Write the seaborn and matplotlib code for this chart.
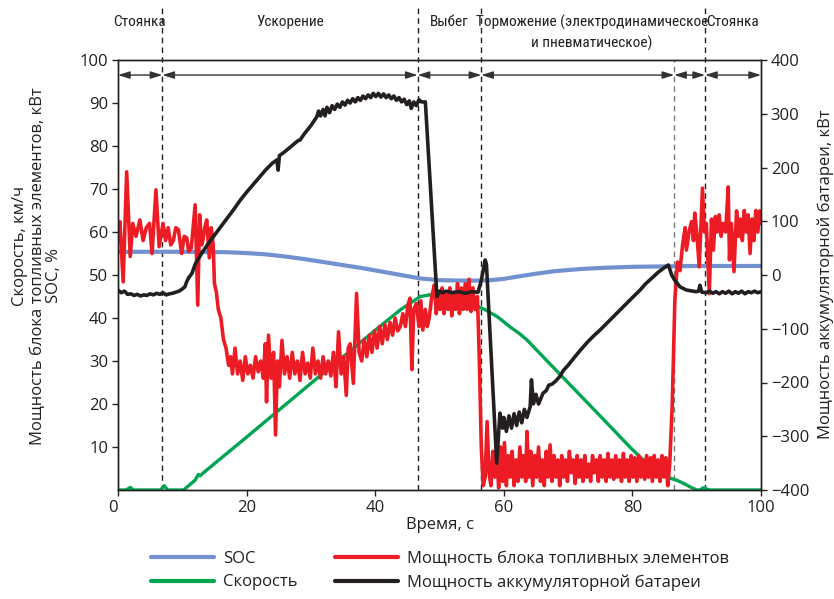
import matplotlib
matplotlib.use("Agg")
import matplotlib.pyplot as plt
from matplotlib.lines import Line2D
from matplotlib import font_manager as fm
import seaborn as sns
import pandas as pd

# ---------------- data ----------------
soc_t = [0, 10, 17, 20, 23, 26, 29, 32, 35, 38, 41, 44, 47, 50, 53, 56, 58, 60, 62, 65, 68, 72, 76, 80, 85, 90, 100]
soc_v = [55.4, 55.4, 55.3, 55.1, 54.8, 54.3, 53.7, 53.0, 52.3, 51.6, 50.8, 50.0, 49.2, 48.8, 48.7, 48.7, 48.8,
         49.1, 49.6, 50.3, 50.9, 51.4, 51.7, 51.9, 52.0, 52.1, 52.1]

speed_t = [0, 1.3, 1.9, 2.4, 6.6, 7.2, 7.7, 10.2, 12.0, 12.5, 12.8, 13.2, 20, 30, 40.2, 44, 47, 49, 51, 53, 55,
           57, 59, 61, 62.5, 63.6, 67, 71, 75, 79.6, 82, 85.8, 87, 88, 89, 90, 90.5, 91.0, 92, 100]
speed_v = [0, 0, 0.6, 0, 0, 1.0, 0, 0, 2.3, 3.6, 3.3, 3.9, 12.3, 24.8, 37.4, 42.0, 45.0, 45.5, 45.3, 44.5, 43.3,
           42.0, 40.3, 37.9, 36.3, 34.9, 29.6, 23.4, 17.2, 10.0, 6.5, 2.8, 2.2, 1.5, 0.7, 0, 0, 0.5, 0, 0]

fc_t = [0, 0.3, 0.8, 1.35, 1.9, 2.3, 2.8, 3.4, 3.9, 4.4, 4.9, 5.3, 5.9, 6.4, 7.0, 7.4, 7.8, 8.2, 8.6, 9.0, 9.4,
        9.9, 10.3, 10.7, 11.0, 11.4, 12.0, 12.4, 12.7, 13.0, 13.2, 13.5, 13.8, 14.2, 14.5, 14.8, 15.0, 15.3,
        15.6, 16.0, 16.4, 16.8, 17.2, 17.5, 17.8, 18.2, 18.6, 19.0, 19.4, 19.8, 20.2, 20.6, 21.0, 21.4, 21.8,
        22.2, 22.6, 22.9, 23.1, 23.4, 23.8, 24.2, 24.5, 24.8, 25.1, 25.5, 25.9, 26.3, 26.7, 27.1, 27.5, 27.9,
        28.3, 28.7, 29.1, 29.5, 29.9, 30.3, 30.7, 31.1, 31.5, 31.9, 32.3, 32.7, 33.1, 33.5, 33.9, 34.3, 34.7,
        35.1, 35.5, 35.8, 36.1, 36.6, 37.1, 37.5, 37.9, 38.3, 38.7, 39.1, 39.5, 39.9, 40.3, 40.7, 41.1, 41.5,
        41.9, 42.3, 42.7, 43.1, 43.5, 43.9, 44.3, 44.7, 45.1, 45.4, 45.7, 46.0, 46.4, 46.8, 47.1, 47.4, 47.8,
        48.1, 48.4, 48.8, 49.2, 49.5, 49.8, 50.1, 50.4, 50.7, 51.0, 51.3, 51.6, 51.9, 52.2, 52.5, 52.8, 53.1,
        53.4, 53.7, 54.0, 54.3, 54.6, 54.9, 55.2, 55.5, 55.9, 56.2, 56.5, 56.8, 57.1, 57.4, 57.7, 58.0, 58.3,
        58.6, 58.9, 59.2, 59.5, 59.8, 60.1, 60.4, 60.7, 61.0, 61.3, 61.6, 61.9, 62.2, 62.5, 62.8, 63.1, 63.4,
        63.6, 63.9, 64.2, 64.5, 64.8, 65.1, 65.4, 65.7, 66.0, 66.3, 66.6, 66.9, 67.2, 67.5, 67.8, 68.1, 68.4,
        68.7, 69.0, 69.3, 69.6, 69.9, 70.2, 70.5, 70.8, 71.1, 71.4, 71.7, 72.0, 72.3, 72.6, 72.9, 73.2, 73.5,
        73.8, 74.1, 74.4, 74.7, 75.0, 75.3, 75.6, 75.9, 76.2, 76.5, 76.8, 77.1, 77.4, 77.7, 78.0, 78.3, 78.6,
        78.9, 79.2, 79.5, 79.8, 80.1, 80.4, 80.7, 81.0, 81.3, 81.6, 81.9, 82.2, 82.5, 82.8, 83.1, 83.4, 83.7,
        84.0, 84.3, 84.6, 84.9, 85.2, 85.5, 85.8, 86.2, 86.6, 87.0, 87.4, 87.8, 88.2, 88.4, 88.8, 89.2, 89.5,
        89.7, 90.0, 90.4, 90.9, 91.2, 91.5, 91.96, 92.3, 92.6, 92.9, 93.2, 93.5, 93.8, 94.1, 94.5, 94.9, 95.1,
        95.4, 95.8, 96.2, 96.5, 96.8, 97.1, 97.4, 97.7, 98.0, 98.3, 98.6, 98.9, 99.2, 99.5, 99.8, 100]
fc_v = [58, 62.4, 48.4, 74, 54.3, 62, 59, 62.8, 58, 61, 62, 55, 69.8, 56.6, 62, 58, 61, 57, 58, 61, 60.5,
        55, 59, 58.6, 55.5, 56.3, 66.3, 43, 64, 57, 58, 61, 62.8, 54, 61, 57, 48, 46,
        42, 40, 35, 33, 29, 31, 27, 33, 27, 30, 25.5, 31, 27, 29, 26, 31, 27.5,
        30, 26, 34, 20.5, 36, 26, 32, 12.8, 30, 24, 34.8, 27, 31, 26, 32, 27, 30,
        25.5, 32, 27, 29.5, 26, 33, 27, 30, 26, 31, 27, 30, 26.5, 32, 24, 36.8, 27,
        31, 22, 33, 34, 24.8, 45.7, 32, 30, 35, 31, 36, 32, 37, 33, 38, 34, 38.5,
        35, 39, 36, 40, 37, 38, 41, 38, 43, 44.6, 28, 42, 43.4, 38, 44, 37.2, 42,
        38, 40, 45, 47.7, 41, 46, 42, 47, 41, 46, 42, 47, 40.5, 46, 42, 48, 41,
        47, 42, 48, 42, 49, 41.5, 47, 42, 45, 30, 10, 1, 3, 15.9, 4, 1, 9,
        3, 8, 0.5, 10, 2, 11, 1, 8, 3, 9, 1, 7, 2, 10, 3, 8, 2,
        13.6, 3, 9, 1, 8, 3, 10, 2, 7, 1, 9, 3, 10.5, 2, 8, 3, 7,
        1, 8, 3, 7, 2, 9, 4, 7, 1.5, 8, 3, 7, 2, 8, 3, 6, 2,
        8, 4, 7, 2, 8, 3, 7, 2, 8.5, 3, 7, 2.5, 8, 3, 7, 2, 8.5,
        3, 7, 2, 8, 3, 7.5, 2, 8, 3, 7, 2.5, 8, 3, 7.5, 2, 8, 3,
        7, 2, 8, 3, 7.5, 1, 6, 20, 44, 53, 51, 57, 61, 55.8, 60, 62.4, 58,
        64.4, 60, 51.9, 70.2, 60, 62, 45.7, 63, 55.8, 63.6, 60, 64, 59, 62, 60, 70.5, 53.5,
        62, 50.8, 64.9, 59, 63, 58, 65, 60, 64, 55, 63, 58, 65, 60, 64.9, 62]

bat_t = [0, 0.5, 1, 1.5, 2, 2.5, 3, 3.5, 4, 4.5, 5, 5.5, 6, 6.5, 7, 7.5, 8, 8.5, 9, 9.5, 10, 10.4, 10.7,
         11.0, 11.5, 12.0, 12.4, 13, 14, 15, 16, 17, 18, 19, 20, 21, 22, 23, 24, 24.7, 24.9, 25.1, 26, 27, 28,
         28.3, 29, 30, 30.9, 31.2, 31.5, 31.9, 32.2, 32.5, 32.9, 33.3, 33.7, 34.1, 34.5, 34.9, 35.3, 35.7,
         36.1, 36.5, 36.9, 37.3, 37.7, 38.1, 38.5, 38.9, 39.3, 39.7, 40.1, 40.5, 40.9, 41.3, 41.7, 42.1, 42.5,
         42.9, 43.3, 43.7, 44.1, 44.5, 44.9, 45.3, 45.6, 46.0, 46.4, 46.8, 47.2, 47.8, 49.6, 50.0, 50.5, 51,
         52, 53, 54, 55, 56, 56.5, 57.1, 57.3, 58.9, 59.4, 59.8, 60.0, 60.4, 60.8, 61.2, 61.6, 62.0, 62.4,
         62.8, 63.2, 63.6, 64.1, 64.3, 64.6, 65.0, 65.4, 66.1, 66.6, 67.0, 67.5, 68.0, 68.7, 69.3, 70, 71,
         71.9, 73, 74, 75, 76, 77, 78, 79, 80, 81.2, 82, 83, 84, 85, 85.6, 86.1, 86.6, 87.4, 88.4, 89.9,
         90.3, 90.5, 90.8, 91.5, 92, 92.5, 93, 93.5, 94, 94.5, 95, 95.5, 96, 96.5, 97, 97.5, 98, 98.5, 99,
         99.5, 100]
bat_v = [-28, -33, -30, -36, -35, -38, -36, -39, -37, -38, -35, -37, -34, -36, -33, -37, -35, -34, -32, -30,
         -26, -22, -12, -5, 3, 20, 28, 40, 58, 74, 90, 106, 122, 139, 154, 168, 182, 196, 208, 214, 195, 222,
         230, 240, 250, 251, 263, 278, 294, 305, 296, 308, 296, 312, 302, 315, 308, 318, 312, 322, 316, 325,
         320, 328, 322, 330, 325, 333, 328, 335, 330, 338, 332, 338, 331, 337, 330, 335, 328, 333, 325, 330,
         322, 327, 317, 324, 310, 322, 315, 326, 322, 322, -40, -30, -33, -30, -33, -31, -34, -31, -32, -10,
         28, 20, -350, -257, -285, -265, -291, -262, -285, -258, -280, -255, -275, -250, -265, -245, -195,
         -240, -222, -240, -220, -215, -205, -203, -198, -189, -177, -168, -153, -140, -125, -113, -102, -90,
         -78, -66, -54, -42, -28, -17, -6, 5, 14, 18.6, 0, -10, -22, -28, -31, -30, -19, -32, -33, -30, -34,
         -31, -35, -31, -34, -30, -35, -31, -34, -30, -35, -31, -33, -30, -33, -31]

phase_bounds = [0, 6.9, 46.6, 56.5, 86.5, 91.3, 100]
phase_labels = ["Стоянка", "Ускорение", "Выбег",
                "Торможение (электродинамическое\nи пневматическое)", "Стоянка"]
phase_label_x = [3.3, 26.8, 51.5, 73.7, 95.6]

left_ticks = [10, 20, 30, 40, 50, 60, 70, 80, 90, 100]
right_ticks = [-400, -300, -200, -100, 0, 100, 200, 300, 400]
x_ticks = [0, 20, 40, 60, 80, 100]


def has_font(name):
    try:
        fm.findfont(fm.FontProperties(family=name), fallback_to_default=False)
        return True
    except Exception:
        return False


narrow = next((f for f in ["Liberation Sans Narrow", "Roboto Condensed", "DejaVu Sans Condensed"]
               if has_font(f)), None)
if narrow:
    phase_family, phase_size = [narrow, "DejaVu Sans"], 11
else:
    phase_family, phase_size = ["Roboto", "DejaVu Sans"], 10

# ---------------- style ----------------
sns.set_style("ticks")
plt.rcParams["font.family"] = ["Open Sans", "DejaVu Sans"]
plt.rcParams["axes.unicode_minus"] = True
TXT = "#231f20"
C_SOC, C_SPD, C_FC, C_BAT = "#7191cf", "#00a551", "#ed1c24", "#231f20"

fig = plt.figure(figsize=(8.34, 5.99), dpi=100)
W, H = 834, 599
ax = fig.add_axes([118 / W, 1 - 490 / H, (761 - 118) / W, (490 - 60) / H])
ax2 = ax.twinx()

df_soc = pd.DataFrame({"t": soc_t, "v": soc_v})
df_spd = pd.DataFrame({"t": speed_t, "v": speed_v})
df_fc = pd.DataFrame({"t": fc_t, "v": fc_v})
df_bat = pd.DataFrame({"t": bat_t, "v": bat_v})

sns.lineplot(data=df_soc, x="t", y="v", ax=ax, color=C_SOC, linewidth=3.0, estimator=None, sort=False)
sns.lineplot(data=df_spd, x="t", y="v", ax=ax, color=C_SPD, linewidth=2.4, estimator=None, sort=False)
sns.lineplot(data=df_fc, x="t", y="v", ax=ax, color=C_FC, linewidth=2.6, estimator=None, sort=False)
sns.lineplot(data=df_bat, x="t", y="v", ax=ax2, color=C_BAT, linewidth=2.6, estimator=None, sort=False)

ax.set_xlim(0, 100)
ax.set_ylim(0, 100)
ax2.set_ylim(-400, 400)
ax.set_xticks(x_ticks)
ax.set_xticklabels([str(v) for v in x_ticks])
ax.get_xticklabels()[0].set_horizontalalignment("right")
ax.set_yticks(left_ticks)
ax2.set_yticks(right_ticks)
ax.set_xlabel("Время, с", fontsize=12, color=TXT, labelpad=1)
ax.set_ylabel("")
ax2.set_ylabel("")

for a in (ax, ax2):
    a.tick_params(direction="out", length=4, width=1, labelsize=12, colors=TXT, pad=3)
    for s in a.spines.values():
        s.set_visible(True)
        s.set_color(TXT)
        s.set_linewidth(1)

# phase boundaries
xt = ax.get_xaxis_transform()
for b in phase_bounds[1:-1]:
    if b == 86.5:
        ax.plot([b, b], [0, 1], transform=xt, color="#777777", lw=1, ls=(0, (4, 3)), zorder=1)
    else:
        ax.plot([b, b], [0, 1.128], transform=xt, color=TXT, lw=1, ls=(0, (4, 3)), zorder=1, clip_on=False)

# arrows
for a0, a1 in zip(phase_bounds[:-1], phase_bounds[1:]):
    ax.annotate("", xy=(a1, 96.5), xytext=(a0, 96.5),
                arrowprops=dict(arrowstyle="<|-|>,head_length=0.7,head_width=0.22", color="#333333",
                                lw=1, shrinkA=0, shrinkB=0))

# phase labels
for lx, lab in zip(phase_label_x, phase_labels):
    yl = 1.0628 if "\n" in lab else 1.088
    ax.text(lx, yl, lab, transform=xt, ha="center", va="center", fontsize=phase_size, color=TXT,
            linespacing=1.5, family=phase_family)

# axis labels
fig.text(20 / W, 1 - 246 / H, "Скорость, км/ч", rotation=90, ha="center", va="center", fontsize=12, color=TXT)
fig.text(38.5 / W, 1 - 266 / H, "Мощность блока топливных элементов, кВт", rotation=90, ha="center",
         va="center", fontsize=12, color=TXT)
fig.text(54 / W, 1 - 276 / H, "SOC, %", rotation=90, ha="center", va="center", fontsize=12, color=TXT)
fig.text(826 / W, 1 - 274 / H, "Мощность аккумуляторной батареи, кВт", rotation=90, ha="center",
         va="center", fontsize=12, color=TXT)

# legend
handles = [Line2D([], [], color=C_SOC, lw=3.0), Line2D([], [], color=C_SPD, lw=3.0),
           Line2D([], [], color=C_FC, lw=3.0), Line2D([], [], color=C_BAT, lw=3.0)]
labels = ["SOC", "Скорость", "Мощность блока топливных элементов", "Мощность аккумуляторной батареи"]
leg = fig.legend(handles, labels, ncol=2, loc="upper left", bbox_to_anchor=(151 / W, 1 - 551 / H),
                 frameon=False, fontsize=12, handlelength=3.8, handletextpad=0.55, columnspacing=2.2,
                 labelspacing=0.45, borderpad=0, borderaxespad=0)
for t in leg.get_texts():
    t.set_color(TXT)

fig.savefig("out.png", dpi=100)
